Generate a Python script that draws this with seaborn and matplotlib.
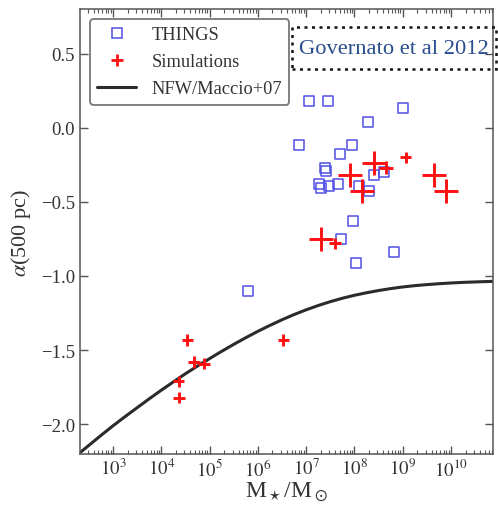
import numpy as np
import pandas as pd
import matplotlib
matplotlib.use("Agg")
import matplotlib.pyplot as plt
from matplotlib.lines import Line2D
from matplotlib.patches import Rectangle
import seaborn as sns

# ---- data (log10 of stellar mass, alpha at 500 pc) ----
things_logm = [7.05, 7.45, 9.01, 8.29, 6.85, 7.95, 7.70, 7.41, 7.40, 8.41, 8.62,
               7.26, 7.30, 7.48, 7.67, 8.09, 8.30, 7.98, 7.72, 8.81, 8.03, 5.79]
things_alpha = [0.18, 0.18, 0.13, 0.04, -0.12, -0.12, -0.18, -0.29, -0.27, -0.32, -0.30,
                -0.38, -0.41, -0.39, -0.38, -0.39, -0.43, -0.63, -0.75, -0.84, -0.91, -1.10]

sim_logm = [8.40, 7.90, 8.15, 9.65, 9.89, 7.30, 8.65, 9.06, 7.60,
            4.54, 4.68, 4.88, 4.36, 4.37, 6.53]
sim_alpha = [-0.24, -0.32, -0.43, -0.32, -0.43, -0.75, -0.27, -0.20, -0.78,
             -1.43, -1.58, -1.59, -1.71, -1.82, -1.43]
sim_class = ["big", "big", "big", "big", "big", "big", "mid", "small", "small",
             "small", "small", "small", "small", "small", "small"]

nfw_logm = [2.32, 2.75, 3.0, 3.25, 3.5, 3.75, 4.0, 4.25, 4.5, 4.75, 5.0, 5.25, 5.5,
            5.75, 6.0, 6.25, 6.5, 6.75, 7.0, 7.25, 7.5, 7.75, 8.0, 8.25, 8.5, 8.75,
            9.0, 9.25, 9.5, 9.75, 10.0, 10.25, 10.5, 10.87]
nfw_alpha = [-2.19, -2.075, -2.01, -1.948, -1.888, -1.828, -1.770, -1.714, -1.659,
             -1.607, -1.557, -1.508, -1.461, -1.416, -1.373, -1.333, -1.295, -1.260,
             -1.228, -1.199, -1.173, -1.150, -1.130, -1.113, -1.098, -1.085, -1.074,
             -1.065, -1.058, -1.052, -1.047, -1.043, -1.040, -1.036]

xtick_exp = [3, 4, 5, 6, 7, 8, 9, 10]
yticks = [-2.0, -1.5, -1.0, -0.5, 0.0, 0.5]

things = pd.DataFrame({"mass": np.power(10.0, things_logm), "alpha": things_alpha})
sims = pd.DataFrame({"mass": np.power(10.0, sim_logm), "alpha": sim_alpha, "cls": sim_class})
nfw = pd.DataFrame({"mass": np.power(10.0, nfw_logm), "alpha": nfw_alpha})

sns.set_theme(style="ticks")
plt.rcParams["font.family"] = ["Liberation Serif", "DejaVu Serif"]
plt.rcParams["mathtext.fontset"] = "stix"
plt.rcParams["axes.edgecolor"] = "#555555"
plt.rcParams["xtick.color"] = "#555555"
plt.rcParams["ytick.color"] = "#555555"
plt.rcParams["xtick.labelcolor"] = "#333333"
plt.rcParams["ytick.labelcolor"] = "#333333"

fig = plt.figure(figsize=(4.98, 5.06), dpi=100)
ax = fig.add_axes([80 / 498, 1 - 455 / 506, 413 / 498, 445 / 506])

blue = "#5050e6"
red = "#ff1010"
curve = "#2b2b2b"

sns.lineplot(data=nfw, x="mass", y="alpha", ax=ax, color=curve, lw=2.2,
             sort=False, legend=False)
sns.scatterplot(data=things, x="mass", y="alpha", ax=ax, marker="s", s=52,
                facecolor="none", edgecolor=blue, linewidth=1.1, legend=False, zorder=3)
sns.scatterplot(data=sims, x="mass", y="alpha", ax=ax, size="cls",
                sizes={"big": 300, "mid": 95, "small": 70}, marker="+",
                color=red, linewidth=2.1, legend=False, zorder=4)

ax.set_xscale("log")
ax.set_xlim(10 ** 2.317, 10 ** 10.87)
ax.set_ylim(-2.2, 0.8)
ax.set_xticks([10.0 ** e for e in xtick_exp])
ax.set_xticklabels([r"$10^{%d}$" % e for e in xtick_exp])
ax.set_yticks(yticks)
ax.set_yticklabels([("%.1f" % v).replace("-", "\u2212") for v in yticks])
ax.xaxis.set_minor_locator(matplotlib.ticker.LogLocator(base=10, subs=np.arange(2, 10), numticks=30))
ax.xaxis.set_minor_formatter(matplotlib.ticker.NullFormatter())
ax.tick_params(which="both", direction="in", top=True, right=True, labelsize=13.5)
ax.tick_params(which="major", length=6, width=1)
ax.tick_params(which="minor", length=3, width=0.8)
ax.tick_params(axis="x", pad=3)
for sp in ax.spines.values():
    sp.set_linewidth(1.1)

ax.set_xlabel(r"M$_\star$/M$_\odot$", fontsize=17, color="#333333", labelpad=0)
ax.set_ylabel(r"$\alpha$(500 pc)", fontsize=16, color="#333333", labelpad=6)

handles = [
    Line2D([], [], ls="none", marker="s", markersize=7, markerfacecolor="none",
           markeredgecolor=blue, markeredgewidth=1.1),
    Line2D([], [], ls="none", marker="+", markersize=9, markeredgecolor=red,
           markeredgewidth=2.0),
    Line2D([], [], color=curve, lw=2.2),
]
leg = ax.legend(handles, ["THINGS", "Simulations", "NFW/Maccio+07"],
                loc="upper left", bbox_to_anchor=(10 / 413, 1 - 10 / 445),
                borderaxespad=0, fontsize=13.2, frameon=True, fancybox=True,
                handlelength=2.1, handletextpad=0.85, labelspacing=0.55,
                borderpad=0.4, labelcolor="#333333")
leg.get_frame().set_edgecolor("#777777")
leg.get_frame().set_linewidth(1.3)
leg.get_frame().set_alpha(1)

# Governato box
rect = Rectangle((292 / 498, 1 - 70 / 506), 204 / 498, 42 / 506, transform=fig.transFigure,
                 fill=False, edgecolor="#111111", linestyle=(0, (1.2, 1.8)), linewidth=1.8,
                 clip_on=False, zorder=5)
fig.patches.append(rect)
fig.text(394 / 498, 1 - 49 / 506, "Governato et al 2012", ha="center", va="center",
         fontsize=16.2, color="#2a4d8f")

fig.savefig("out.png", dpi=100)
